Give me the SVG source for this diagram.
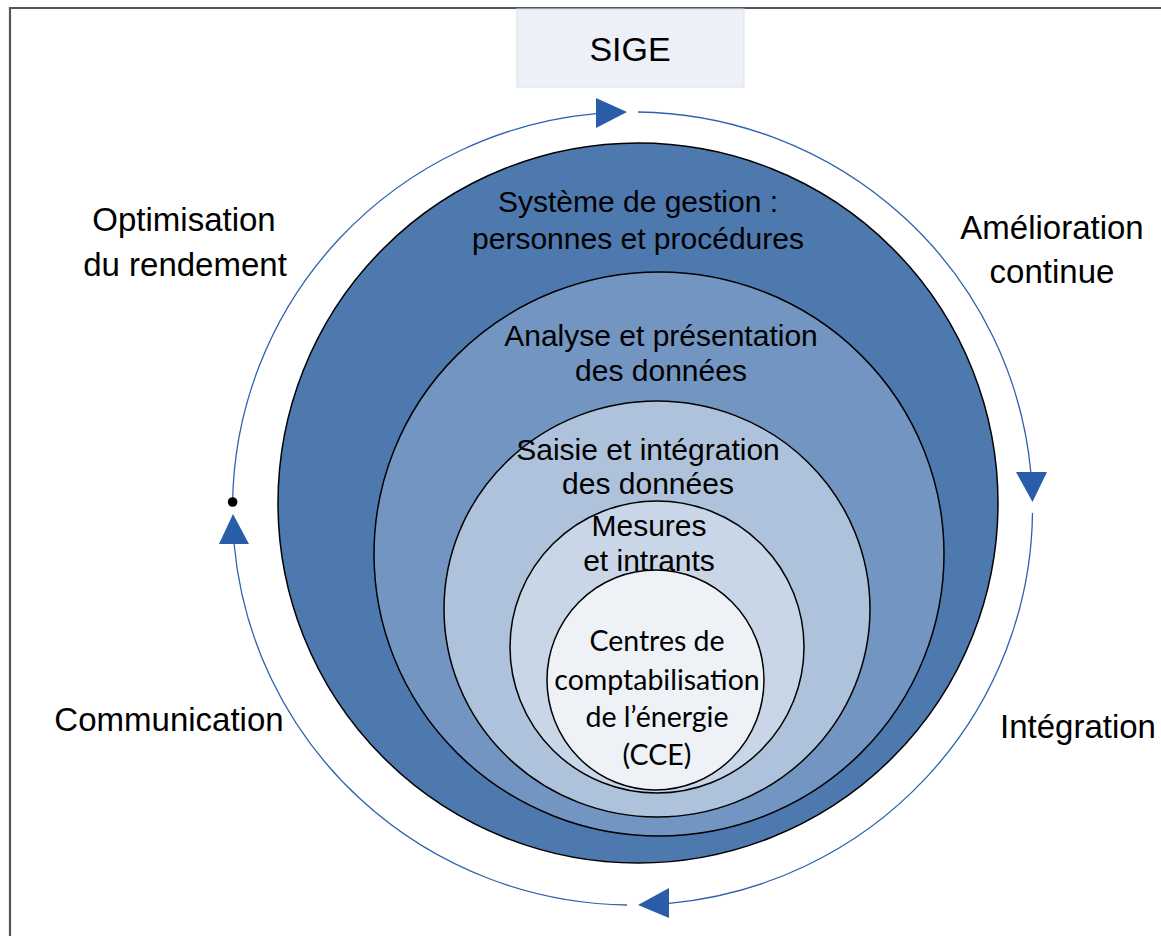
<svg xmlns="http://www.w3.org/2000/svg" width="1161" height="936" viewBox="0 0 1161 936">
<style>
.lbl{font-family:"Liberation Sans",Arial,sans-serif;fill:#000;text-anchor:middle}
.out{font-size:33px}
.in{font-size:30px}
.cce{font-family:Lato,"Open Sans",sans-serif;font-size:28.5px;fill:#000;text-anchor:middle}
.ring{stroke:#000;stroke-width:1.5}
.arc{fill:none;stroke:#2E62AE;stroke-width:1.3}
.head{fill:#2A5DA8}
</style>
<rect x="0" y="0" width="1161" height="936" fill="#fff"/>
<path d="M10 936 V8 H1161" fill="none" stroke="#555" stroke-width="2.2"/>
<g id="sige">
<rect x="517" y="9" width="227" height="78" fill="#EDF1F7" stroke="#D2E5EE" stroke-width="1"/>
<text class="lbl" x="630" y="61" font-size="34">SIGE</text>
</g>
<g id="connectors">
<path class="arc" d="M638 112 A400 396.5 0 0 1 1030.8 472"/>
<path class="arc" d="M1032.5 513 A400 396.5 0 0 1 669 903.3"/>
<path class="arc" d="M627 905 A400 396.5 0 0 1 234.1 544"/>
<path class="arc" d="M232.6 502 A400 396.5 0 0 1 596 113.6"/>
<polygon class="head" points="596,98 596,128 627,112"/>
<polygon class="head" points="1016,472 1047,472 1032.5,502"/>
<polygon class="head" points="669,888 669,918 638,905"/>
<polygon class="head" points="219,544 249,544 233,514"/>
<circle cx="232.6" cy="502" r="4.8" fill="#000"/>
</g>
<g id="systeme-gestion">
<circle class="ring" cx="638" cy="503" r="360" fill="#4E79AE"/>
</g>
<g id="analyse">
<ellipse class="ring" cx="659" cy="554" rx="285" ry="282" fill="#7295C1"/>
</g>
<g id="saisie">
<ellipse class="ring" cx="657" cy="609" rx="213" ry="208" fill="#AFC2DB"/>
</g>
<g id="mesures">
<ellipse class="ring" cx="657" cy="647" rx="147" ry="146" fill="#C9D6E7"/>
</g>
<g id="cce">
<ellipse class="ring" cx="655.5" cy="680" rx="108.5" ry="110" fill="#EEF1F6"/>
</g>
<g id="texts-inner">
<text class="lbl in" x="638" y="212">Système de gestion :</text>
<text class="lbl in" x="638" y="249">personnes et procédures</text>
<text class="lbl in" x="661" y="346">Analyse et présentation</text>
<text class="lbl in" x="661" y="381">des données</text>
<text class="lbl in" x="648" y="460" font-size="28.5">Saisie et intégration</text>
<text class="lbl in" x="648" y="494">des données</text>
<text class="lbl in" x="649" y="536">Mesures</text>
<text class="lbl in" x="649" y="571">et intrants</text>
<text class="cce" x="657" y="651">Centres de</text>
<text class="cce" x="657" y="690">comptabilisation</text>
<text class="cce" x="657" y="727">de l’énergie</text>
<text class="cce" x="657" y="765">(CCE)</text>
</g>
<g id="optimisation">
<text class="lbl out" x="184" y="231">Optimisation</text>
<text class="lbl out" x="185" y="276">du rendement</text>
</g>
<g id="amelioration">
<text class="lbl out" x="1052" y="239">Amélioration</text>
<text class="lbl out" x="1052" y="283">continue</text>
</g>
<g id="communication">
<text class="lbl out" x="169" y="731">Communication</text>
</g>
<g id="integration">
<text class="lbl out" x="1078" y="738">Intégration</text>
</g>
</svg>
